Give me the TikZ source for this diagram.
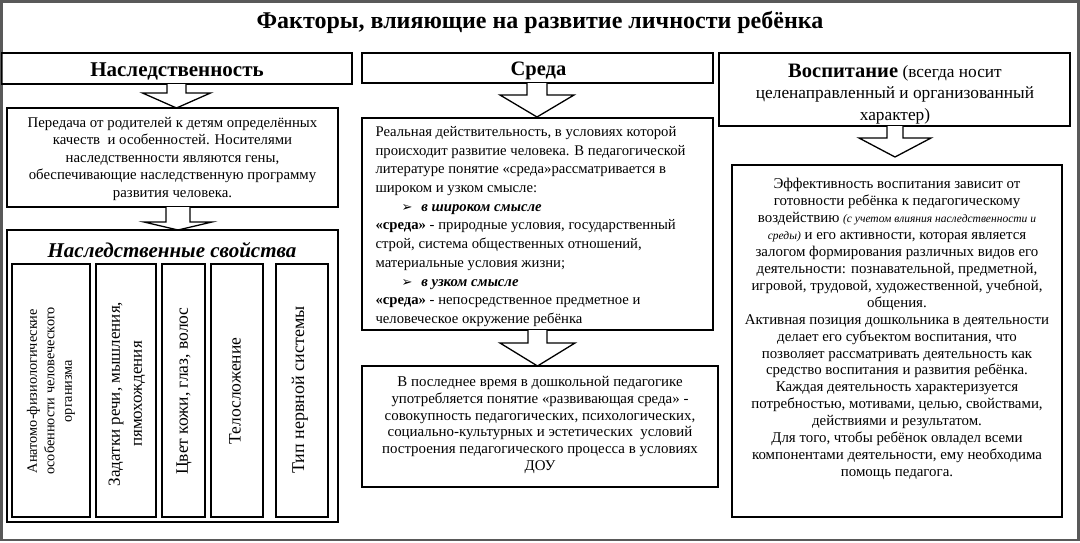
\documentclass[tikz,border=0pt]{standalone}
\usepackage{fontspec}
\setmainfont{Liberation Serif}
\newfontfamily\dejavu{DejaVu Sans}
\newcommand\bodyfont{\fontsize{14.8}{17.5}\selectfont}
\newcommand\barrow[6]{\draw[arrowline] (#1-#5,#2) -- (#1-#5,#3) -- (#1-#6,#3) -- (#1,#4) -- (#1+#6,#3) -- (#1+#5,#3) -- (#1+#5,#2);}
\newcommand\bul{{\dejavu\fontsize{13}{12}\selectfont ➢}}
\begin{document}
\begin{tikzpicture}[x=1pt,y=-1pt,
  box/.style={draw=black, line width=1.3pt},
  arrowline/.style={draw=black, line width=1.3pt, fill=white, line join=miter},
  frame/.style={draw=black!65, line width=2.6pt}]
\useasboundingbox (0,0) rectangle (1080,542);
\fill[white] (0,0) rectangle (1080,542);
\draw[frame] (1.3,1.3) rectangle (1078.3,540);
% title
\node (title) at (540,22) {\bfseries\fontsize{24}{28}\selectfont Факторы, влияющие на развитие личности ребёнка};
% heading boxes
\draw[box] (1.3,53) rectangle (352,84);
\node (h1) at (177,71) {\bfseries\fontsize{21}{24}\selectfont Наследственность};
\draw[box] (362,53) rectangle (713,83);
\node (h2) at (538.5,71) {\bfseries\fontsize{20.5}{24}\selectfont Среда};
\draw[box] (719,53) rectangle (1070,126);
\node[align=center, font={\fontsize{17.3}{21.5}\selectfont}] (h3) at (895,94) {{\bfseries\fontsize{20.5}{21.5}\selectfont Воспитание} (всегда носит\\ целенаправленный и организованный\\ характер)};
% left column
\barrow{176.5}{84}{93}{108}{9.5}{34}
\draw[box] (7,108) rectangle (338,207);
\node[align=center, font=\bodyfont] (b1) at (172.5,159) {Передача от родителей к детям определённых\\ качеств\ \ и особенностей. Носителями\\ наследственности являются гены,\\ обеспечивающие наследственную программу\\ развития человека.};
\barrow{178}{207}{222}{230}{12}{34}
\draw[box] (7,230) rectangle (338,522);
\node (b2) at (172,250) {\bfseries\itshape\fontsize{21}{24}\selectfont Наследственные свойства};
\draw[box] (12,264) rectangle (90,517);
\draw[box] (96,264) rectangle (156,517);
\draw[box] (162,264) rectangle (205,517);
\draw[box] (211,264) rectangle (263,517);
\draw[box] (276,264) rectangle (328,517);
\node[rotate=90, align=center, font={\fontsize{14.3}{17.5}\selectfont}] (v1) at (51,391) {Анатомо-физиологические\\ особенности человеческого\\ организма};
\node[rotate=90, align=center, font={\fontsize{17}{22}\selectfont}] (v2) at (127,394) {Задатки речи, мышления,\\ пямохождения};
\node[rotate=90, font={\fontsize{17.5}{22}\selectfont}] (v3) at (184,391) {Цвет кожи, глаз, волос};
\node[rotate=90, font={\fontsize{17.5}{22}\selectfont}] (v4) at (235,391) {Телосложение};
\node[rotate=90, font={\fontsize{18}{22}\selectfont}] (v5) at (300,390) {Тип нервной системы};
% middle column
\barrow{537}{83}{95}{117}{10}{37}
\draw[box] (362,118) rectangle (713,330);
\node[align=left, anchor=west, font={\fontsize{14.7}{18.7}\selectfont}] (m1) at (372,226.5) {Реальная действительность, в условиях которой\\ происходит развитие человека. В педагогической\\ литературе понятие «среда»рассматривается в\\ широком и узком смысле:\\ \hspace*{26pt}\bul\hspace{9pt}\textbf{\textit{в широком смысле}}\\ \textbf{«среда»} - природные условия, государственный\\ строй, система общественных отношений,\\ материальные условия жизни;\\ \hspace*{26pt}\bul\hspace{9pt}\textbf{\textit{в узком смысле}}\\ \textbf{«среда»} - непосредственное предметное и\\ человеческое окружение ребёнка};
\barrow{537.5}{330}{343}{366}{9.5}{37.5}
\draw[box] (362,366) rectangle (718,487);
\node[align=center, font={\fontsize{14.9}{16.9}\selectfont}] (m2) at (540,425) {В последнее время в дошкольной педагогике\\ употребляется понятие «развивающая среда» -\\ совокупность педагогических, психологических,\\ социально-культурных и эстетических\ \ условий\\ построения педагогического процесса в условиях\\ ДОУ};
% right column
\barrow{895}{126}{138}{157}{8}{36}
\draw[box] (732,165) rectangle (1062,517);
\node[align=center, font={\fontsize{14.9}{16.94}\selectfont}] (r1) at (897,329) {Эффективность воспитания зависит от\\ готовности ребёнка к педагогическому\\ воздействию {\itshape\fontsize{11.5}{12}\selectfont (с учетом влияния наследственности и}\\ {\itshape\fontsize{11.5}{12}\selectfont среды)} и его активности, которая является\\ залогом формирования различных видов его\\ деятельности: познавательной, предметной,\\ игровой, трудовой, художественной, учебной,\\ общения.\\ Активная позиция дошкольника в деятельности\\ делает его субъектом воспитания, что\\ позволяет рассматривать деятельность как\\ средство воспитания и развития ребёнка.\\ Каждая деятельность характеризуется\\ потребностью, мотивами, целью, свойствами,\\ действиями и результатом.\\ Для того, чтобы ребёнок овладел всеми\\ компонентами деятельности, ему необходима\\ помощь педагога.};
\end{tikzpicture}
\end{document}
